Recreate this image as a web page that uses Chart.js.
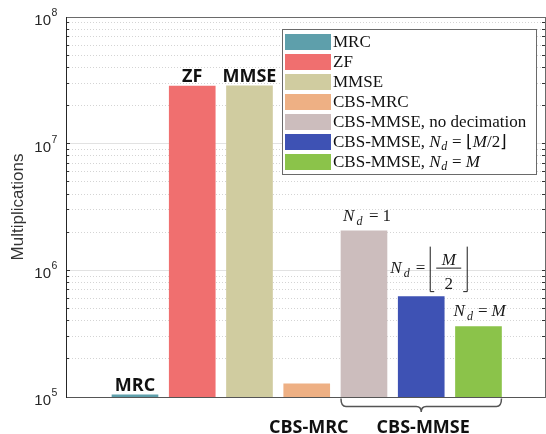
<!DOCTYPE html>
<html>
<head>
<meta charset="utf-8">
<script src="https://cdn.jsdelivr.net/npm/chart.js@4.4.1/dist/chart.umd.min.js"></script>
<style>
  html, body { margin: 0; padding: 0; background: #ffffff; }
  #wrap { width: 546px; height: 434px; }
</style>
</head>
<body>
<div id="wrap"><canvas id="chart" width="546" height="434"></canvas></div>
<script>
// Detector labels (legend); *x* = italic, _x = subscript character
const categories = [
  'MRC',
  'ZF',
  'MMSE',
  'CBS-MRC',
  'CBS-MMSE, no decimation',
  'CBS-MMSE, *N*_d = ⌊*M*/2⌋',
  'CBS-MMSE, *N*_d = *M*'
];
// Bar positions on the x axis
const positions = [1, 2, 3, 4, 5, 6, 7];
// Number of multiplications per detector
const multiplications = [1.04e5, 2.85e7, 2.86e7, 1.27e5, 2.05e6, 6.2e5, 3.6e5];
const barColors = ['#5e9fab', '#f06f6f', '#d0cca0', '#eeb084', '#ccbdbd', '#3e52b4', '#8bc34a'];
// Bold labels above bars
const topLabels = ['MRC', 'ZF', 'MMSE', '', '', '', ''];
// Bold group labels under the axis (first..last bar index)
const groupLabels = ['CBS-MRC', 'CBS-MMSE'];
const groupFirst = [3, 4];
const groupLast = [3, 6];
// Decimation annotations over the CBS-MMSE bars
const annotationBars = [4, 5, 6];
const annotationValues = ['1', 'floor(M/2)', 'M'];
// Y axis ticks
const majorTicks = [1e5, 1e6, 1e7, 1e8];
const minorTicks = [
  2e5, 3e5, 4e5, 5e5, 6e5, 7e5, 8e5, 9e5,
  2e6, 3e6, 4e6, 5e6, 6e6, 7e6, 8e6, 9e6,
  2e7, 3e7, 4e7, 5e7, 6e7, 7e7, 8e7, 9e7
];
const allTicks = majorTicks.concat(minorTicks);

const SERIF = '"Liberation Serif", "Times New Roman", serif';
const SANS = '"Liberation Sans", Arial, sans-serif';
const BOLD = '"Open Sans", "Noto Sans", sans-serif';

// Draw a string with *italic* runs and _x subscripts; returns end x
function drawRich(ctx, str, x, y, size) {
  let italic = false;
  let i = 0;
  while (i < str.length) {
    const ch = str[i];
    if (ch === '*') { italic = !italic; i++; continue; }
    if (ch === '_') {
      const c = str[i + 1];
      ctx.font = 'italic ' + Math.round(size * 0.7) + 'px ' + SERIF;
      ctx.fillText(c, x + 0.5, y + size * 0.22);
      x += ctx.measureText(c).width + 1;
      i += 2;
      continue;
    }
    ctx.font = (italic ? 'italic ' : '') + size + 'px ' + SERIF;
    ctx.fillText(ch, x, y);
    x += ctx.measureText(ch).width;
    i++;
  }
  return x;
}

// "N_d =" prefix of the annotations
function drawNd(ctx, x, y, eqOffset) {
  ctx.font = 'italic 17px ' + SERIF;
  ctx.fillText('N', x, y);
  ctx.font = 'italic 12px ' + SERIF;
  ctx.fillText('d', x + 13.5, y + 4);
  ctx.font = '17px ' + SERIF;
  ctx.fillText('=', x + eqOffset, y);
}

const decorations = {
  id: 'decorations',
  afterDraw(chart) {
    const ctx = chart.ctx;
    const yScale = chart.scales.y;
    const area = chart.chartArea;
    const bars = chart.data.datasets.map((d, i) => chart.getDatasetMeta(i).data[0]);
    ctx.save();

    // y tick labels 10^n
    ctx.fillStyle = '#262626';
    ctx.textBaseline = 'alphabetic';
    majorTicks.forEach(v => {
      const y = yScale.getPixelForValue(v);
      const exp = Math.round(Math.log10(v));
      ctx.font = '15px ' + SANS;
      ctx.textAlign = 'right';
      ctx.fillText('10', 51, y + 8);
      ctx.font = '10.5px ' + SANS;
      ctx.textAlign = 'left';
      ctx.fillText(String(exp), 51.5, y - 1);
    });

    // bold labels above bars
    ctx.fillStyle = '#111111';
    ctx.textAlign = 'center';
    ctx.font = 'bold 18px ' + BOLD;
    bars.forEach((bar, i) => {
      if (topLabels[i]) ctx.fillText(topLabels[i], bar.x, bar.y - 4);
    });

    // group labels under the axis, with a brace for multi-bar groups
    groupLabels.forEach((label, g) => {
      const b0 = bars[groupFirst[g]], b1 = bars[groupLast[g]];
      const left = b0.x - b0.width / 2, right = b1.x + b1.width / 2;
      const mid = (left + right) / 2;
      ctx.fillStyle = '#111111';
      ctx.font = 'bold 18px ' + BOLD;
      ctx.textAlign = 'center';
      ctx.fillText(label, (b0.x + b1.x) / 2 + 2, 433);
      if (groupLast[g] > groupFirst[g]) {
        const y0 = area.bottom + 1.5, y1 = area.bottom + 9.5, tip = area.bottom + 15;
        ctx.strokeStyle = '#555555';
        ctx.lineWidth = 1.5;
        ctx.beginPath();
        ctx.moveTo(left, y0);
        ctx.quadraticCurveTo(left, y1, left + 5, y1);
        ctx.lineTo(mid - 5, y1);
        ctx.quadraticCurveTo(mid, y1, mid, tip);
        ctx.quadraticCurveTo(mid, y1, mid + 5, y1);
        ctx.lineTo(right - 5, y1);
        ctx.quadraticCurveTo(right, y1, right, y0);
        ctx.stroke();
      }
    });

    // N_d annotations
    ctx.fillStyle = '#1a1a1a';
    ctx.textAlign = 'left';
    annotationBars.forEach((bi, k) => {
      const bar = bars[bi];
      const left = bar.x - bar.width / 2;
      const val = annotationValues[k];
      if (val === '1') {
        const x = left + 2, y = bar.y - 10;
        drawNd(ctx, x, y, 26);
        ctx.font = '17px ' + SERIF;
        ctx.fillText('1', x + 39.5, y);
      } else if (val === 'M') {
        const x = left - 2, y = bar.y - 11;
        drawNd(ctx, x, y, 24.5);
        ctx.font = 'italic 17px ' + SERIF;
        ctx.fillText('M', x + 38, y);
      } else {
        const x = left - 8, y = bar.y - 24;
        drawNd(ctx, x, y, 25.5);
        const xb = x + 40;
        ctx.strokeStyle = '#1a1a1a';
        ctx.lineWidth = 1;
        ctx.beginPath();
        ctx.moveTo(xb, y - 26); ctx.lineTo(xb, y + 19); ctx.lineTo(xb + 4, y + 19);
        ctx.moveTo(xb + 37, y - 26); ctx.lineTo(xb + 37, y + 19); ctx.lineTo(xb + 33, y + 19);
        ctx.moveTo(xb + 6, y - 4.5); ctx.lineTo(xb + 31, y - 4.5);
        ctx.stroke();
        ctx.textAlign = 'center';
        ctx.font = 'italic 17px ' + SERIF;
        ctx.fillText('M', xb + 18.5, y - 8);
        ctx.font = '17px ' + SERIF;
        ctx.fillText('2', xb + 18.5, y + 16);
        ctx.textAlign = 'left';
      }
    });

    // legend box
    const lx = 282.5, ly = 29.5, lw = 254, lh = 145;
    ctx.fillStyle = '#ffffff';
    ctx.fillRect(lx, ly, lw, lh);
    ctx.strokeStyle = '#6a6a6a';
    ctx.lineWidth = 1;
    ctx.strokeRect(lx, ly, lw, lh);
    chart.data.datasets.forEach((ds, i) => {
      const ry = 34 + 20 * i;
      ctx.fillStyle = ds.backgroundColor;
      ctx.fillRect(285, ry, 46, 16);
      ctx.fillStyle = '#111111';
      ctx.textAlign = 'left';
      drawRich(ctx, ds.label, 333, ry + 12.5, 17);
    });

    ctx.restore();
  }
};

const tickSetter = list => scale => { scale.ticks = list.map(v => ({ value: v })); };

new Chart(document.getElementById('chart').getContext('2d'), {
  type: 'bar',
  data: {
    datasets: categories.map((label, i) => ({
      label: label,
      data: [{ x: positions[i], y: multiplications[i] }],
      backgroundColor: barColors[i],
      borderWidth: 0,
      barThickness: 46,
      grouped: false
    }))
  },
  options: {
    responsive: false,
    animation: false,
    events: [],
    layout: { padding: { top: 17, right: 1, left: 0, bottom: 0 } },
    plugins: { legend: { display: false }, tooltip: { enabled: false } },
    scales: {
      x: {
        type: 'linear', position: 'bottom', min: -0.205, max: 8.162, offset: false,
        ticks: { display: false },
        grid: { display: false, drawTicks: false, offset: false },
        border: { color: '#555555', width: 1 },
        afterFit(s) { s.height = 37; }
      },
      xTop: {
        type: 'linear', position: 'top', min: -0.205, max: 8.162, offset: false,
        ticks: { display: false },
        grid: { display: false, drawTicks: false, offset: false },
        border: { color: '#6a6a6a', width: 1 },
        afterFit(s) { s.height = 0; }
      },
      y: {
        type: 'logarithmic', position: 'left', weight: 1,
        min: 1e5, max: 1e8,
        afterBuildTicks: tickSetter(majorTicks),
        ticks: { callback: () => '', padding: 0 },
        grid: { color: '#e2e2e2', lineWidth: 1, tickColor: '#333333', tickLength: -4 },
        border: { color: '#262626', width: 1 },
        title: {
          display: true, text: 'Multiplications', color: '#333333',
          font: { family: 'Liberation Sans', size: 17 },
          padding: { top: 8.5, bottom: 0 }
        },
        afterFit(s) { s.width = 66; }
      },
      yMinor: {
        type: 'logarithmic', position: 'left', weight: 0,
        min: 1e5, max: 1e8,
        afterBuildTicks: tickSetter(minorTicks),
        ticks: { display: false },
        grid: { color: '#d4d4d4', lineWidth: 1, tickColor: '#333333', tickLength: -3 },
        border: { display: false, dash: [1, 2] },
        afterFit(s) { s.width = 0; }
      },
      yRight: {
        type: 'logarithmic', position: 'right', weight: 0,
        min: 1e5, max: 1e8,
        afterBuildTicks: tickSetter(allTicks),
        ticks: { display: false },
        grid: { drawOnChartArea: false, tickColor: '#333333', tickLength: -3 },
        border: { color: '#6a6a6a', width: 1 },
        afterFit(s) { s.width = 0; }
      }
    }
  },
  plugins: [decorations]
});
</script>
</body>
</html>
